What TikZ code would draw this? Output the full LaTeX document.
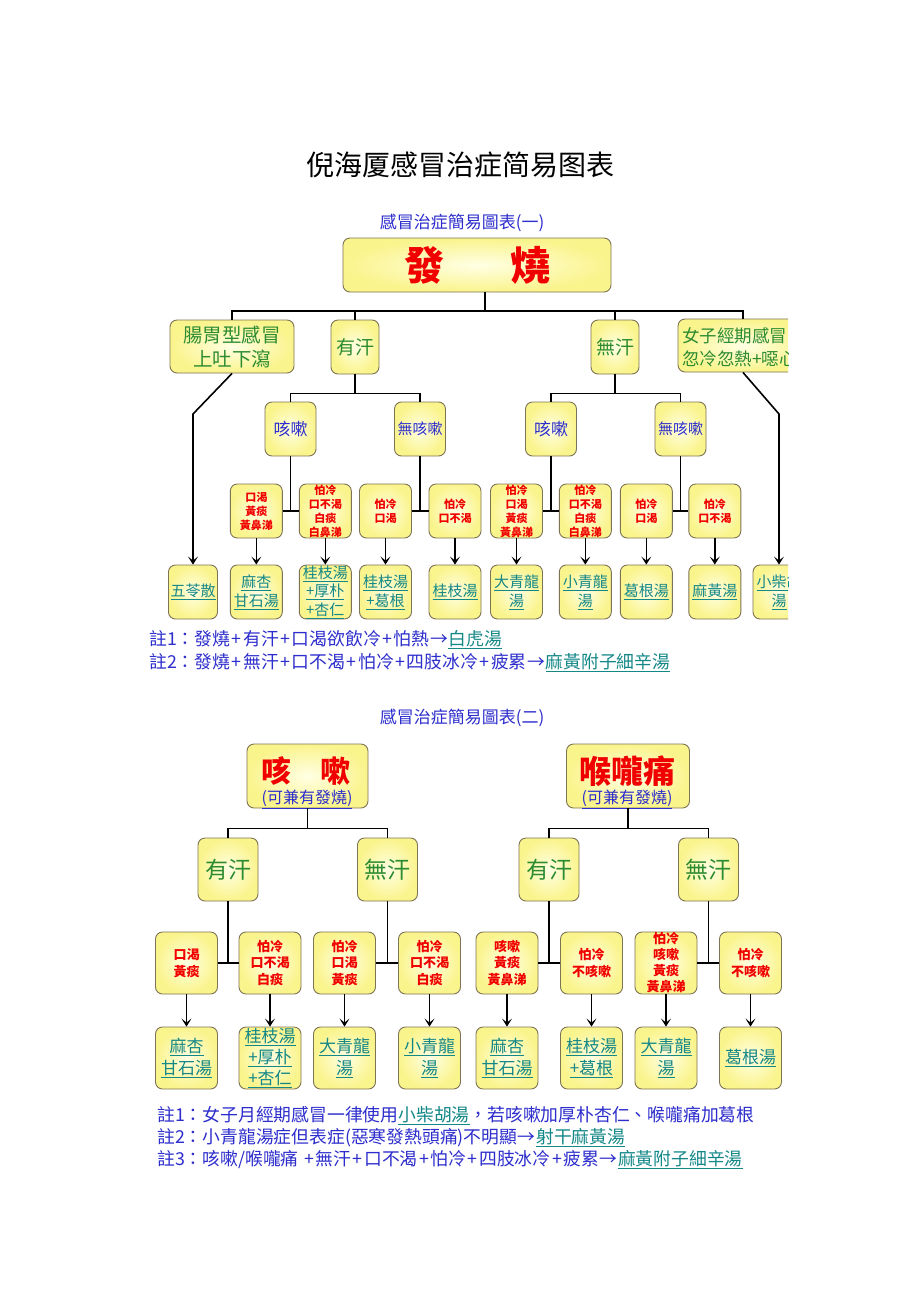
\documentclass[tikz,border=0pt]{standalone}
\usepackage{fontspec}
\setmainfont{Noto Sans CJK TC}
\newfontfamily\scfont{Noto Sans CJK SC}
\usetikzlibrary{arrows.meta,calc}
\definecolor{cgreen}{RGB}{45,140,50}
\definecolor{cblue}{RGB}{45,45,205}
\definecolor{cred}{RGB}{240,0,0}
\definecolor{cteal}{RGB}{20,135,135}
\definecolor{bordc}{RGB}{125,115,85}
\definecolor{boxin}{RGB}{255,255,228}
\definecolor{boxout}{RGB}{250,244,140}
\newcommand{\fsz}[2]{\fontsize{#1}{#2}\selectfont}
\newcommand{\uln}[1]{\underline{#1}}
\newcommand{\pl}{\makebox[13pt]{+}}
\newcommand{\ra}{\makebox[19pt]{→}}
\tikzset{
  box/.style={draw=bordc, line width=0.9pt, rounded corners=7pt, inner color=boxin, outer color=boxout, inner sep=0pt, align=center},
  conn/.style={line width=1.6pt, black},
  arr/.style={conn, -{Stealth[length=8pt,width=10pt,inset=4pt]}},
  lvA/.style={box, text=cgreen, font=\fsz{19.5}{24}},
  kA/.style={box, text=cblue, minimum width=51, minimum height=54},
  sA/.style={box, text=cred, font=\bfseries\fsz{11}{14}, minimum width=52, minimum height=54},
  rA/.style={box, text=cteal, font=\fsz{15}{19}, minimum width=52, minimum height=54},
  lvB/.style={box, text=cgreen, font=\fsz{23}{23}, minimum width=60, minimum height=63},
  sB/.style={box, text=cred, font=\bfseries\fsz{13}{16.5}, minimum width=62, minimum height=62},
  rB/.style={box, text=cteal, font=\fsz{17}{22}, minimum width=62, minimum height=62},
  note/.style={anchor=west, text=cblue, font=\fsz{17.8}{17.8}, inner sep=0pt},
  subt/.style={text=cblue, font=\fsz{17}{17}, inner sep=0pt}
}
\begin{document}
\begin{tikzpicture}[x=1pt,y=-1pt]
\fill[white] (0,0) rectangle (920,1302);
\useasboundingbox (0,0) rectangle (920,1302);

% title
\node[font=\scfont\fsz{28}{28}, inner sep=0pt] (title) at (460,165) {倪海厦感冒治症简易图表};

% ================= chart 1 =================
\node[subt] (sub1) at (462,223) {感冒治症簡易圖表(一)};
\node[box, minimum width=268, minimum height=54] (fs) at (477,265) {\raisebox{-3pt}{\textcolor{cred}{\bfseries\fsz{40}{40}發\hspace{66pt}燒}}};

\node[lvA, minimum width=124, minimum height=53] (cw) at (232,346.5) {腸胃型感冒\\上吐下瀉};
\node[lvA, font=\fsz{19}{19}, minimum width=48, minimum height=54] (yh1) at (355,347) {有汗};
\node[lvA, font=\fsz{19}{19}, minimum width=48, minimum height=54] (wh1) at (615,347) {無汗};

\begin{scope}
\clip (0,0) rectangle (788,700);
\node[box, minimum width=130, minimum height=53] (nv) at (743,345.5) {};
\node[anchor=west, align=left, text=cgreen, font=\fsz{17.5}{23}, inner sep=0pt] (nvt) at (682,347.5) {女子經期感冒\\忽冷忽熱+噁心};
\node[rA] (r9) at (779,592) {\uln{小柴胡}\\\uln{湯}};
\end{scope}

\node[kA, font=\fsz{17}{17}] (ks1) at (290.5,429) {咳嗽};
\node[kA, font=\fsz{15}{15}] (nk1) at (420,429) {無咳嗽};
\node[kA, font=\fsz{17}{17}] (ks2) at (551,429) {咳嗽};
\node[kA, font=\fsz{15}{15}] (nk2) at (680.5,429) {無咳嗽};

\node[sA] (s1) at (256.3,511) {口渴\\黃痰\\黃鼻涕};
\node[sA] (s2) at (325.3,511) {怕冷\\口不渴\\白痰\\白鼻涕};
\node[sA] (s3) at (385.5,511) {怕冷\\口渴};
\node[sA] (s4) at (455,511) {怕冷\\口不渴};
\node[sA] (s5) at (516.5,511) {怕冷\\口渴\\黃痰\\黃鼻涕};
\node[sA] (s6) at (585.3,511) {怕冷\\口不渴\\白痰\\白鼻涕};
\node[sA] (s7) at (646.3,511) {怕冷\\口渴};
\node[sA] (s8) at (714.8,511) {怕冷\\口不渴};

\node[rA, minimum width=49] (r0) at (193,592) {\uln{五苓散}};
\node[rA] (r1) at (256.3,592) {\uln{麻杏}\\\uln{甘石湯}};
\node[rA, font=\fsz{15}{18.5}] (r2) at (325.3,592) {\uln{桂枝湯}\\\uln{+厚朴}\\\uln{+杏仁}};
\node[rA] (r3) at (385.5,592) {\uln{桂枝湯}\\\uln{+葛根}};
\node[rA] (r4) at (455,592) {\uln{桂枝湯}};
\node[rA] (r5) at (516.5,592) {\uln{大青龍}\\\uln{湯}};
\node[rA] (r6) at (585.3,592) {\uln{小青龍}\\\uln{湯}};
\node[rA] (r7) at (646.3,592) {\uln{葛根湯}};
\node[rA] (r8) at (714.8,592) {\uln{麻黃湯}};

% connectors chart 1
\coordinate (ya) at (0,311);
\coordinate (yb) at (0,393.5);
\coordinate (yk) at (0,414);
\draw[conn] ([xshift=8pt]fs.south) -- ([xshift=8pt]fs.south |- ya);
\draw[conn] (cw.north) -- (cw.north |- ya) -- (nv.north |- ya) -- (nv.north);
\draw[conn] (yh1.north) -- (yh1.north |- ya);
\draw[conn] (wh1.north) -- (wh1.north |- ya);
\draw[conn] (yh1.south) -- (yh1.south |- yb);
\draw[conn] (ks1.north) -- (ks1.north |- yb) -- (nk1.north |- yb) -- (nk1.north);
\draw[conn] (wh1.south) -- (wh1.south |- yb);
\draw[conn] (ks2.north) -- (ks2.north |- yb) -- (nk2.north |- yb) -- (nk2.north);
\draw[conn] (ks1.south) -- (ks1.south |- s1.east);
\draw[conn] (s1.east) -- (s2.west);
\draw[conn] (nk1.south) -- (nk1.south |- s3.east);
\draw[conn] (s3.east) -- (s4.west);
\draw[conn] (ks2.south) -- (ks2.south |- s5.east);
\draw[conn] (s5.east) -- (s6.west);
\draw[conn] (nk2.south) -- (nk2.south |- s7.east);
\draw[conn] (s7.east) -- (s8.west);
\foreach \i in {1,...,8} { \draw[arr] (s\i.south) -- (r\i.north); }
\draw[arr] (cw.south) -- (r0.north |- yk) -- (r0.north);
\draw[arr] (nv.south) -- (r9.north |- yk) -- (r9.north);

\node[note] (n11) at (149,640) {註1：發燒\pl 有汗\pl 口渴欲飲冷\pl 怕熱\ra\textcolor{cteal}{\uln{白虎湯}}};
\node[note] (n12) at (149,662.5) {註2：發燒\pl 無汗\pl 口不渴\pl 怕冷\pl 四肢冰冷\pl 疲累\ra\textcolor{cteal}{\uln{麻黃附子細辛湯}}};

% ================= chart 2 =================
\node[subt] (sub2) at (462,718) {感冒治症簡易圖表(二)};

\node[box, minimum width=121, minimum height=64] (k2) at (307.5,776) {};
\node[text=cred, font=\bfseries\fsz{30}{30}, inner sep=0pt] (k2a) at (306,771) {咳\hspace{29pt}嗽};
\node[text=cblue, font=\fsz{16}{16}, inner sep=0pt] (k2b) at (307,799) {\uln{(可兼有發燒)}};
\node[box, minimum width=123, minimum height=64] (h2) at (628,776) {};
\node[text=cred, font=\bfseries\fsz{32}{32}, inner sep=0pt] (h2a) at (627,771) {喉嚨痛};
\node[text=cblue, font=\fsz{16}{16}, inner sep=0pt] (h2b) at (627,799) {\uln{(可兼有發燒)}};

\node[lvB] (yh2) at (228,869.5) {有汗};
\node[lvB] (wh2) at (387.5,869.5) {無汗};
\node[lvB] (yh3) at (549,869.5) {有汗};
\node[lvB] (wh3) at (708.5,869.5) {無汗};

\node[sB] (t1) at (186.5,963) {口渴\\黃痰};
\node[sB] (t2) at (270,963) {怕冷\\口不渴\\白痰};
\node[sB] (t3) at (344.5,963) {怕冷\\口渴\\黃痰};
\node[sB] (t4) at (429.5,963) {怕冷\\口不渴\\白痰};
\node[sB] (t5) at (507,963) {咳嗽\\黃痰\\黃鼻涕};
\node[sB] (t6) at (591.5,963) {怕冷\\不咳嗽};
\node[sB, font=\bfseries\fsz{13}{16}] (t7) at (666,963) {怕冷\\咳嗽\\黃痰\\黃鼻涕};
\node[sB] (t8) at (750.5,963) {怕冷\\不咳嗽};

\node[rB] (q1) at (186.5,1058) {\uln{麻杏}\\\uln{甘石湯}};
\node[rB, font=\fsz{17}{21}] (q2) at (270,1058) {\uln{桂枝湯}\\\uln{+厚朴}\\\uln{+杏仁}};
\node[rB] (q3) at (344.5,1058) {\uln{大青龍}\\\uln{湯}};
\node[rB] (q4) at (429.5,1058) {\uln{小青龍}\\\uln{湯}};
\node[rB] (q5) at (507,1058) {\uln{麻杏}\\\uln{甘石湯}};
\node[rB] (q6) at (591.5,1058) {\uln{桂枝湯}\\\uln{+葛根}};
\node[rB] (q7) at (666,1058) {\uln{大青龍}\\\uln{湯}};
\node[rB] (q8) at (750.5,1058) {\uln{葛根湯}};

\coordinate (yc) at (0,828.5);
\draw[conn] (k2.south) -- (k2.south |- yc);
\draw[conn] (yh2.north) -- (yh2.north |- yc) -- (wh2.north |- yc) -- (wh2.north);
\draw[conn] (h2.south) -- (h2.south |- yc);
\draw[conn] (yh3.north) -- (yh3.north |- yc) -- (wh3.north |- yc) -- (wh3.north);
\draw[conn] (yh2.south) -- (yh2.south |- t1.east);
\draw[conn] (t1.east) -- (t2.west);
\draw[conn] (wh2.south) -- (wh2.south |- t3.east);
\draw[conn] (t3.east) -- (t4.west);
\draw[conn] (yh3.south) -- (yh3.south |- t5.east);
\draw[conn] (t5.east) -- (t6.west);
\draw[conn] (wh3.south) -- (wh3.south |- t7.east);
\draw[conn] (t7.east) -- (t8.west);
\foreach \i in {1,...,8} { \draw[arr] (t\i.south) -- (q\i.north); }

\node[note] (n21) at (157,1115.5) {註1：女子月經期感冒一律使用\textcolor{cteal}{\uln{小柴胡湯}}，若咳嗽加厚朴杏仁、喉嚨痛加葛根};
\node[note] (n22) at (157,1137.5) {註2：小青龍湯症但表症(惡寒發熱頭痛)不明顯\ra\textcolor{cteal}{\uln{射干麻黃湯}}};
\node[note] (n23) at (157,1159.5) {註3：咳嗽/喉嚨痛 \pl 無汗\pl 口不渴\pl 怕冷\pl 四肢冰冷\pl 疲累\ra\textcolor{cteal}{\uln{麻黃附子細辛湯}}};
\end{tikzpicture}
\end{document}
